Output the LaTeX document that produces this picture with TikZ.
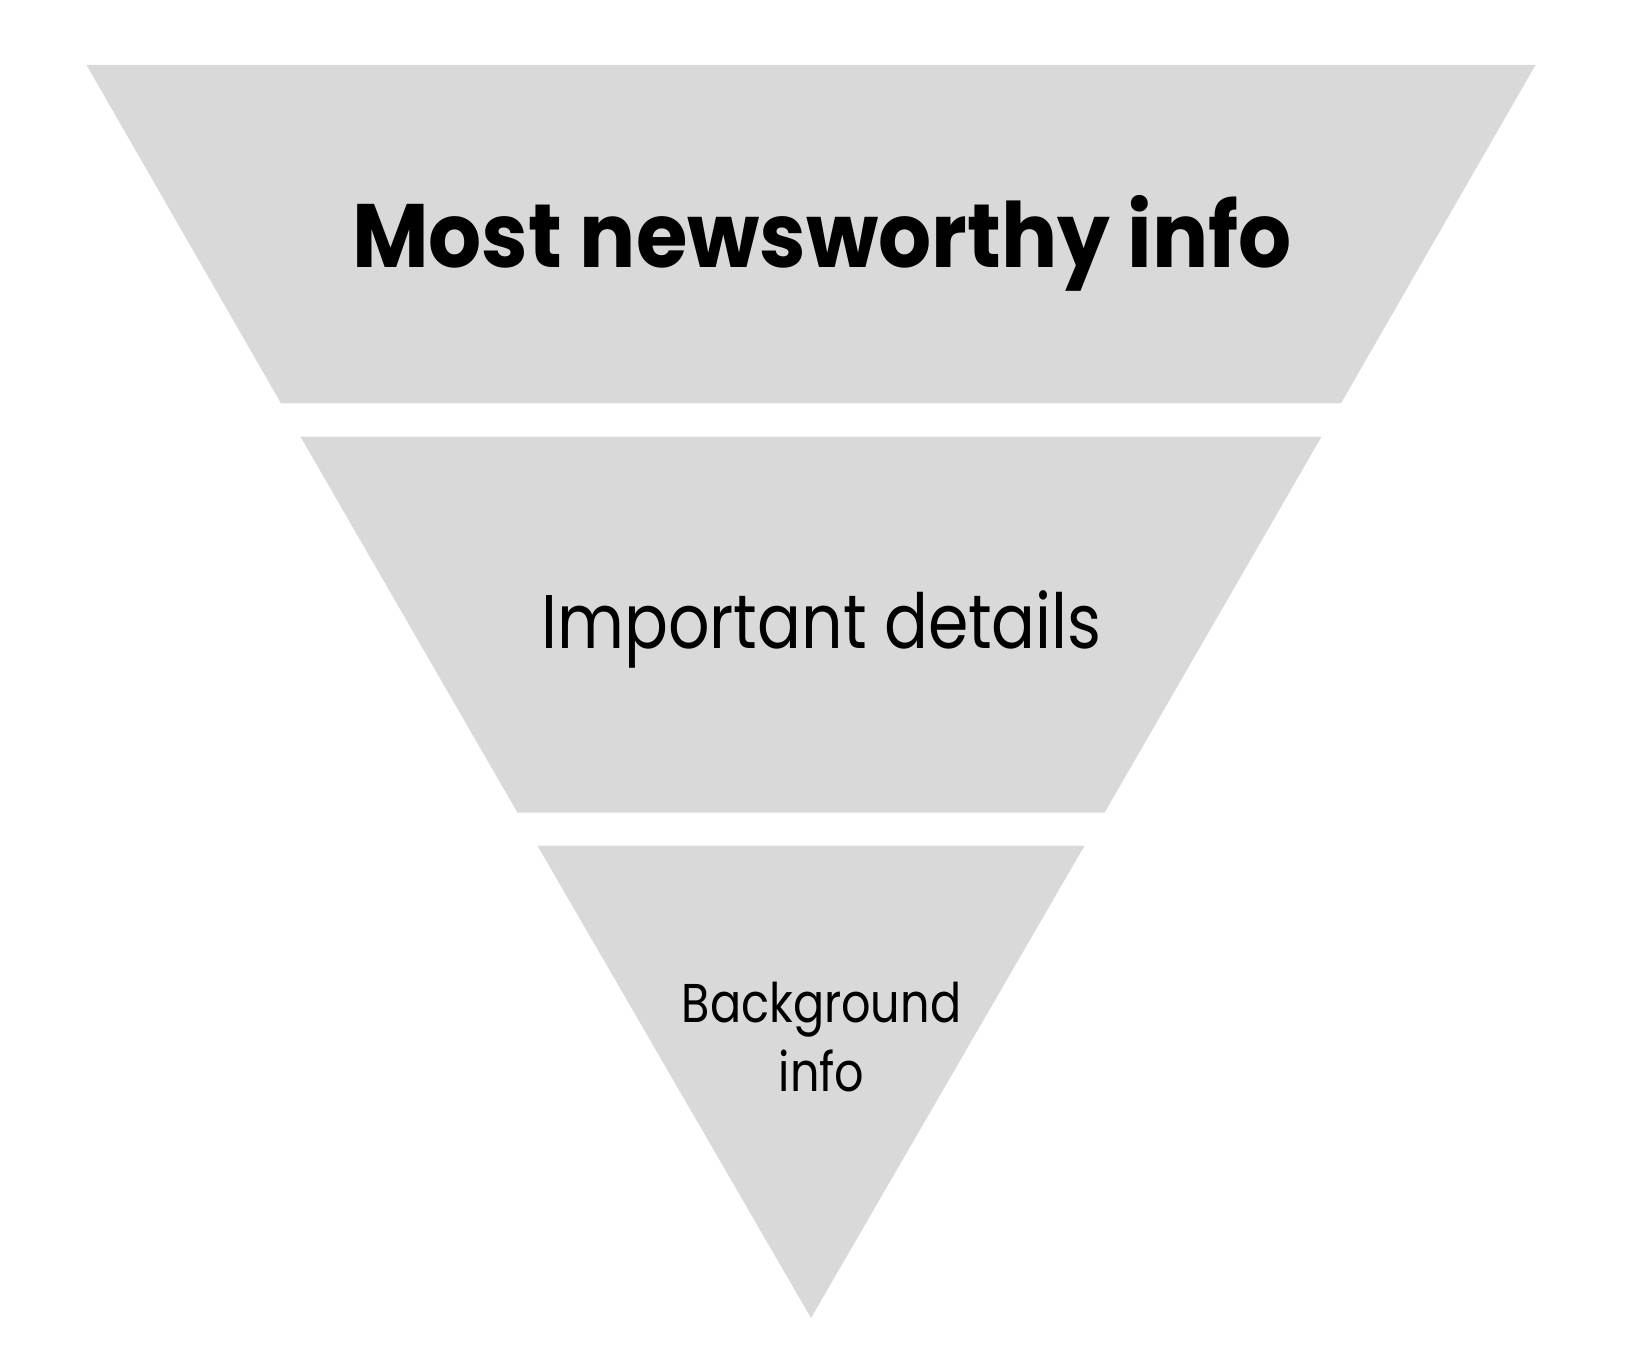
\documentclass[tikz,border=0pt]{standalone}
\usepackage{graphicx}
\usepackage{fontspec}
\setmainfont{Poppins}
\definecolor{layer}{HTML}{D9D9D9}
\begin{document}
\begin{tikzpicture}[x=0.5pt,y=-0.5pt,
  layerfill/.style={fill=layer,draw=none},
  lbl/.style={anchor=base,inner sep=0pt,text=black}]
\useasboundingbox (0,0) rectangle (1642,1364);
% top layer
\coordinate (t1) at (86.5,65);
\coordinate (t2) at (1535.5,65);
\coordinate (t3) at (1341,403.3);
\coordinate (t4) at (281,403.3);
\fill[layerfill] (t1) -- (t2) -- (t3) -- (t4) -- cycle;
% middle layer
\coordinate (m1) at (300.5,436.7);
\coordinate (m2) at (1321.5,436.7);
\coordinate (m3) at (1104.5,812.7);
\coordinate (m4) at (517.5,812.7);
\fill[layerfill] (m1) -- (m2) -- (m3) -- (m4) -- cycle;
% bottom layer
\coordinate (b1) at (537.5,845.7);
\coordinate (b2) at (1084.5,845.7);
\coordinate (b3) at (811,1318);
\fill[layerfill] (b1) -- (b2) -- (b3) -- cycle;
% labels
\node[lbl,font=\fontsize{45}{54}\selectfont\bfseries] (top) at (822,267) {\scalebox{0.927}[1]{Most newsworthy info}};
\node[lbl,font=\fontsize{38}{46}\selectfont] (mid) at (821.5,648) {\scalebox{0.855}[1]{Important details}};
\node[lbl,font=\fontsize{27.3}{33}\selectfont] (bg1) at (821.5,1022) {\scalebox{0.845}[1]{Background}};
\node[lbl,font=\fontsize{27.3}{33}\selectfont] (bg2) at (821.5,1091) {\scalebox{0.845}[1]{info}};
\end{tikzpicture}
\end{document}
